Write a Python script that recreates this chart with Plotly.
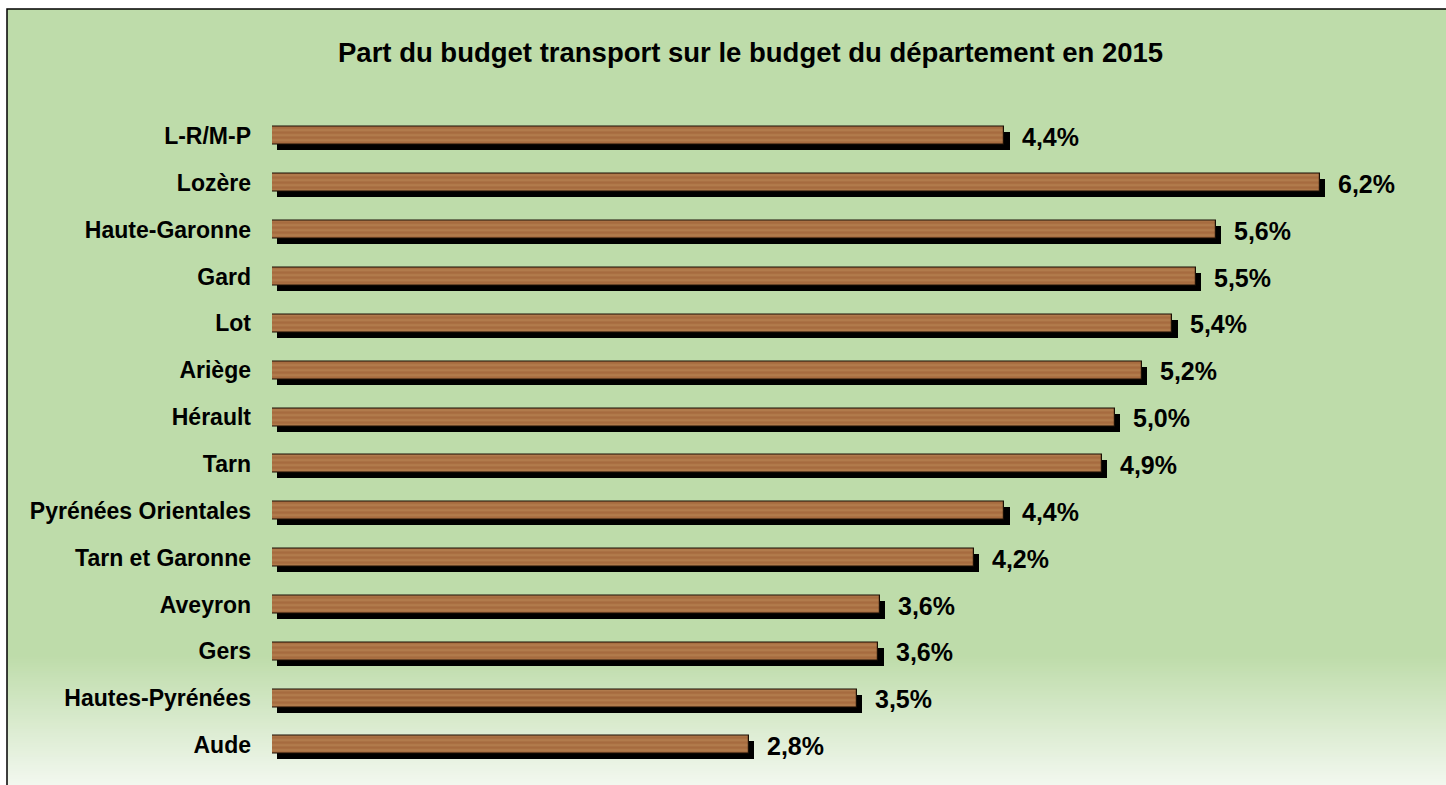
import plotly.graph_objects as go

W, H = 1446, 785

categories = ["L-R/M-P", "Lozère", "Haute-Garonne", "Gard", "Lot", "Ariège", "Hérault",
              "Tarn", "Pyrénées Orientales", "Tarn et Garonne", "Aveyron", "Gers",
              "Hautes-Pyrénées", "Aude"]
values = [4.36, 6.24, 5.62, 5.50, 5.36, 5.18, 5.02, 4.94, 4.36, 4.18, 3.62, 3.61, 3.48, 2.84]

title_text = "Part du budget transport sur le budget du département en 2015"

GREEN = (190, 220, 170)
WHITE = (243, 248, 240)
FONT = "Liberation Sans, Arial"

fig = go.Figure()

# shadow bars
fig.add_trace(go.Bar(
    y=categories, x=values, base=0.03, orientation="h",
    offset=-0.085, width=0.384,
    marker=dict(color="#000000", line=dict(width=0)),
    hoverinfo="skip", showlegend=False,
))
# wood bars
fig.add_trace(go.Bar(
    y=categories, x=values, orientation="h",
    offset=-0.192, width=0.384,
    marker=dict(color="#A86D40", line=dict(color="#1a0f05", width=1.2),
                pattern=dict(shape="-", fgcolor="#B47F4F", bgcolor="#A66B3F",
                             size=5, solidity=0.4, fillmode="replace")),
    showlegend=False,
))

annotations = []
for c, v in zip(categories, values):
    annotations.append(dict(
        x=v, y=c, xref="x", yref="y", xanchor="left", yanchor="middle",
        xshift=16, yshift=-1, showarrow=False,
        text="<b>" + f"{v:.1f}".replace(".", ",") + "%</b>",
        font=dict(family=FONT, size=25, color="#000000"),
    ))
annotations.append(dict(
    x=750 / W, y=1 - 53 / H, xref="paper", yref="paper", xanchor="center", yanchor="middle",
    showarrow=False, text="<b>" + title_text + "</b>",
    font=dict(family=FONT, size=27.5, color="#000000"),
))

shapes = [dict(type="rect", xref="paper", yref="paper", x0=7 / W, x1=1.01, y0=-0.01, y1=1 - 9 / H,
               fillcolor="rgb(%d,%d,%d)" % GREEN, line=dict(width=0), layer="below")]
g0, g1 = 655, 786
step = 2
for yy in range(g0, g1, step):
    t = (yy - g0) / (g1 - g0)
    col = tuple(round(GREEN[k] + (WHITE[k] - GREEN[k]) * t) for k in range(3))
    shapes.append(dict(type="rect", xref="paper", yref="paper", x0=7 / W, x1=1.01,
                       y0=1 - (yy + step + 0.5) / H, y1=1 - yy / H,
                       fillcolor="rgb(%d,%d,%d)" % col, line=dict(width=0), layer="below"))
shapes.append(dict(type="rect", xref="paper", yref="paper", x0=7 / W, x1=1.01, y0=-0.01, y1=1 - 9 / H,
                   fillcolor="rgba(0,0,0,0)", line=dict(color="#000000", width=1.5), layer="below"))

fig.update_layout(
    width=W, height=H,
    margin=dict(l=0, r=0, t=0, b=0),
    paper_bgcolor="white", plot_bgcolor="rgba(0,0,0,0)",
    barmode="overlay", bargap=0,
    annotations=annotations, shapes=shapes,
    xaxis=dict(domain=[272 / W, 1], range=[0, (W - 272) / 168], visible=False, fixedrange=True),
    yaxis=dict(domain=[1 - 768.5 / H, 1 - 112.6 / H], autorange="reversed",
               showgrid=False, zeroline=False, showline=False, ticks="",
               ticklabelstandoff=20,
               tickfont=dict(family=FONT, size=23, color="#000000", weight="bold")),
    font=dict(family=FONT),
)

fig.write_html("out.html", config={"displayModeBar": False},
               post_script="document.body.style.margin='0';document.body.style.overflow='hidden';")
